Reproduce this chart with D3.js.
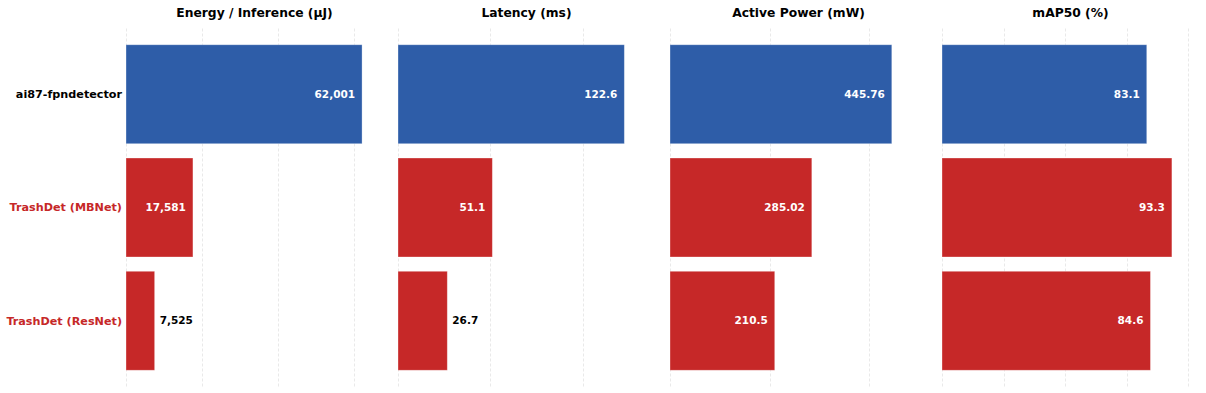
<!DOCTYPE html>
<html>
<head>
<meta charset="utf-8">
<script src="https://cdn.jsdelivr.net/npm/d3@7"></script>
<style>
    body { margin: 0; background: #fff; }
    text { font-family: "DejaVu Sans", sans-serif; font-weight: bold; }
</style>
</head>
<body>
<div id="chart"></div>
<script>
// data
const models = ["ai87-fpndetector", "TrashDet (MBNet)", "TrashDet (ResNet)"];
const metrics = ["Energy / Inference (µJ)", "Latency (ms)", "Active Power (mW)", "mAP50 (%)"];
const energy = [62001, 17581, 7525];
const latency = [122.6, 51.1, 26.7];
const power = [445.76, 285.02, 210.5];
const map50 = [83.1, 93.3, 84.6];
const tickSteps = [20000, 50, 200, 25];
const xMax = [67500, 139.2, 516.5, 104.3];

const seriesList = [energy, latency, power, map50];
const formats = [d3.format(","), String, String, String];

const W = 1206, H = 393;
const plotLeft = 126, panelW = 257, panelStep = 272;
const plotTop = 28.5, plotBottom = 386.5;
const blue = "#2e5da8", red = "#c62828";
const colorOf = i => i == 0 ? blue : red;

const svg = d3.select("#chart").append("svg")
    .attr("width", W)
    .attr("height", H);

const y = d3.scaleBand()
    .domain(models)
    .range([plotTop, plotBottom])
    .paddingInner(0.126)
    .paddingOuter(0.1435);

// model labels on the left
svg.selectAll(".ylab")
    .data(models)
    .enter().append("text")
    .attr("class", "ylab")
    .attr("x", plotLeft - 4)
    .attr("y", d => y(d) + y.bandwidth() / 2)
    .attr("dy", "0.35em")
    .attr("text-anchor", "end")
    .attr("font-size", 11.2)
    .attr("fill", (d, i) => i == 0 ? "#000" : red)
    .text(d => d);

seriesList.forEach((vals, p) => {
    const x0 = plotLeft + p * panelStep;
    const g = svg.append("g").attr("transform", `translate(${x0},0)`);
    const x = d3.scaleLinear().domain([0, xMax[p]]).range([0, panelW]);
    const maxV = d3.max(vals);

    // dashed grid
    g.selectAll(".grid")
        .data(d3.range(0, xMax[p], tickSteps[p]))
        .enter().append("line")
        .attr("x1", d => Math.round(x(d)) + 0.5)
        .attr("x2", d => Math.round(x(d)) + 0.5)
        .attr("y1", plotTop)
        .attr("y2", plotBottom)
        .attr("stroke", "#e9e9e9")
        .attr("stroke-width", 1)
        .attr("stroke-dasharray", "3,2");

    g.append("text")
        .attr("x", panelW / 2)
        .attr("y", 17)
        .attr("text-anchor", "middle")
        .attr("font-size", 12.3)
        .attr("fill", "#000")
        .text(metrics[p]);

    g.selectAll("rect")
        .data(vals)
        .enter().append("rect")
        .attr("x", x(0))
        .attr("y", (d, i) => y(models[i]))
        .attr("width", d => x(d))
        .attr("height", y.bandwidth())
        .attr("fill", (d, i) => colorOf(i))
        .attr("stroke", "#fff")
        .attr("stroke-opacity", 0.4)
        .attr("stroke-width", 0.8);

    // value labels: inside if the bar is long enough
    g.selectAll(".val")
        .data(vals)
        .enter().append("text")
        .attr("class", "val")
        .attr("x", d => d / maxV > 0.25 ? x(d) - 7 : x(d) + 5)
        .attr("y", (d, i) => y(models[i]) + y.bandwidth() / 2)
        .attr("dy", "0.35em")
        .attr("text-anchor", d => d / maxV > 0.25 ? "end" : "start")
        .attr("font-size", 10.5)
        .attr("fill", d => d / maxV > 0.25 ? "#fff" : "#000")
        .text(d => formats[p](d));
});
</script>
</body>
</html>
